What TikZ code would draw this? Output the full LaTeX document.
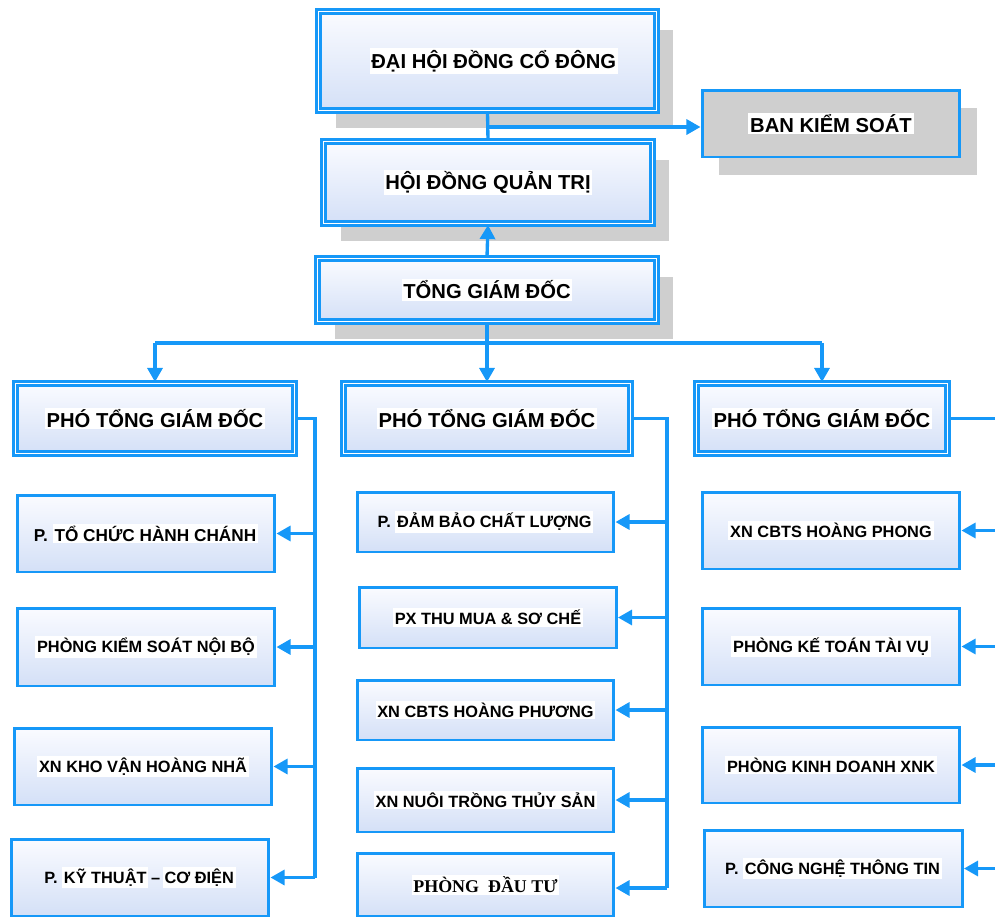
\documentclass[tikz,border=0pt]{standalone}
\usepackage{fontspec}
\setmainfont{Liberation Sans}
\newfontfamily\timesfont{Liberation Serif}
\usetikzlibrary{arrows.meta,shadows}

\definecolor{orgblue}{RGB}{22,152,248}
\definecolor{shadowgray}{RGB}{207,207,207}
\definecolor{boxtop}{RGB}{250,251,255}
\definecolor{boxbottom}{RGB}{212,224,247}

% white highlight behind the labels
\newcommand{\hl}[1]{{\setlength{\fboxsep}{1pt}\colorbox{white}{#1}}}

\begin{document}
\begin{tikzpicture}[
	x=0.02cm, y=-0.02cm,
	unit/.style={draw=orgblue, line width=1.7pt, top color=boxtop, bottom color=boxbottom,
		inner sep=0pt, font=\bfseries\fontsize{9.3}{11}\selectfont},
	head/.style={unit, line width=1.7pt, double=white, double distance=1pt, font=\bfseries\fontsize{11.5}{14}\selectfont},
	shade box/.style={general shadow={fill=shadowgray, shadow xshift=0.34cm, shadow yshift=-0.36cm}},
	link/.style={orgblue, line width=1.9pt},
	arr/.style={link, -{Triangle[length=8pt,width=8.5pt]}},
]
	\useasboundingbox (0,0) rectangle (995,917);

	% top levels
	\node[head, shade box, minimum width=6.76cm, minimum height=1.98cm] (dhd) at (487.5,61) {\hspace*{0.25cm}\hl{ĐẠI HỘI ĐỒNG CỔ ĐÔNG}};
	\node[unit, shade box, top color=shadowgray, bottom color=shadowgray,
		minimum width=5.16cm, minimum height=1.34cm, font=\bfseries\fontsize{11.5}{14}\selectfont] (bks) at (831,123.5) {\hl{BAN KIỂM SOÁT}};
	\node[head, shade box, minimum width=6.58cm, minimum height=1.64cm] (hdqt) at (488,182.5) {\hl{HỘI ĐỒNG QUẢN TRỊ}};
	\node[head, shade box, minimum width=6.78cm, minimum height=1.26cm] (tgd) at (487,290) {\hl{TỔNG GIÁM ĐỐC}};

	% deputies
	\node[head, minimum width=5.58cm, minimum height=1.4cm] (p1) at (155,418.5) {\hl{PHÓ TỔNG GIÁM ĐỐC}};
	\node[head, minimum width=5.74cm, minimum height=1.4cm] (p2) at (487,418.5) {\hl{PHÓ TỔNG GIÁM ĐỐC}};
	\node[head, minimum width=5.02cm, minimum height=1.4cm] (p3) at (822,418.5) {\hl{PHÓ TỔNG GIÁM ĐỐC}};

	% left column
	\node[unit, minimum width=5.16cm, minimum height=1.54cm, font=\bfseries\fontsize{9.8}{12}\selectfont] (l1) at (146,533.5) {P. \hl{TỔ CHỨC HÀNH CHÁNH}};
	\node[unit, minimum width=5.16cm, minimum height=1.56cm] (l2) at (146,647) {\hl{PHÒNG KIỂM SOÁT NỘI BỘ}};
	\node[unit, minimum width=5.16cm, minimum height=1.54cm] (l3) at (143,766.5) {\hl{XN KHO VẬN HOÀNG NHÃ}};
	\node[unit, minimum width=5.16cm, minimum height=1.54cm] (l4) at (140,877.5) {P. \hl{KỸ THUẬT}\,--\,\hl{CƠ ĐIỆN}};

	% middle column
	\node[unit, minimum width=5.14cm, minimum height=1.2cm] (m1) at (485.5,522) {P. \hl{ĐẢM BẢO CHẤT LƯỢNG}};
	\node[unit, minimum width=5.14cm, minimum height=1.22cm] (m2) at (488,617.5) {\hl{PX THU MUA \& SƠ CHẾ}};
	\node[unit, minimum width=5.14cm, minimum height=1.2cm] (m3) at (485.5,710) {\hl{XN CBTS HOÀNG PHƯƠNG}};
	\node[unit, minimum width=5.14cm, minimum height=1.28cm] (m4) at (485.5,800) {\hl{XN NUÔI TRỒNG THỦY SẢN}};
	\node[unit, minimum width=5.14cm, minimum height=1.26cm, font=\bfseries\fontsize{10.2}{12}\selectfont] (m5) at (485.5,885) {\hl{\timesfont PHÒNG\ \ ĐẦU TƯ}};

	% right column
	\node[unit, minimum width=5.16cm, minimum height=1.54cm] (r1) at (831,530.5) {\hl{XN CBTS HOÀNG PHONG}};
	\node[unit, minimum width=5.16cm, minimum height=1.54cm] (r2) at (831,646.5) {\hl{PHÒNG KẾ TOÁN TÀI VỤ}};
	\node[unit, minimum width=5.16cm, minimum height=1.52cm] (r3) at (831,765) {\hl{PHÒNG KINH DOANH XNK}};
	\node[unit, minimum width=5.16cm, minimum height=1.54cm] (r4) at (833.5,868.5) {P. \hl{CÔNG NGHỆ THÔNG TIN}};

	% bus points
	\coordinate (bkstap) at (488,127);
	\coordinate (busT) at (487,343);
	\coordinate (busL) at (315,418.5);
	\coordinate (busM) at (667,418.5);
	\coordinate (busR) at (995,418.5);

	\draw[link] (dhd.south) -- (hdqt.north);
	\draw[arr] (bkstap) -- (bkstap -| bks.west);
	\draw[arr] (tgd.north) -- (hdqt.south);

	\draw[link] (tgd.south) -- (busT);
	\draw[link] (p1.north |- busT) -- (p3.north |- busT);
	\draw[arr] (p1.north |- busT) -- (p1.north);
	\draw[arr] (busT) -- (p2.north);
	\draw[arr] (p3.north |- busT) -- (p3.north);

	\draw[link] (p1.east) -- (busL) -- (busL |- l4.east);
	\draw[arr] (busL |- l1.east) -- (l1.east);
	\draw[arr] (busL |- l2.east) -- (l2.east);
	\draw[arr] (busL |- l3.east) -- (l3.east);
	\draw[arr] (busL |- l4.east) -- (l4.east);

	\draw[link] (p2.east) -- (busM) -- ([yshift=-0.06cm]busM |- m5.east);
	\draw[arr] (busM |- m1.east) -- (m1.east);
	\draw[arr] (busM |- m2.east) -- (m2.east);
	\draw[arr] (busM |- m3.east) -- (m3.east);
	\draw[arr] (busM |- m4.east) -- (m4.east);
	\draw[arr] ([yshift=-0.06cm]busM |- m5.east) -- ([yshift=-0.06cm]m5.east);

	\draw[link] (p3.east) -- (busR);
	\draw[arr] (busR |- r1.east) -- (r1.east);
	\draw[arr] (busR |- r2.east) -- (r2.east);
	\draw[arr] (busR |- r3.east) -- (r3.east);
	\draw[arr] (busR |- r4.east) -- (r4.east);
\end{tikzpicture}
\end{document}
